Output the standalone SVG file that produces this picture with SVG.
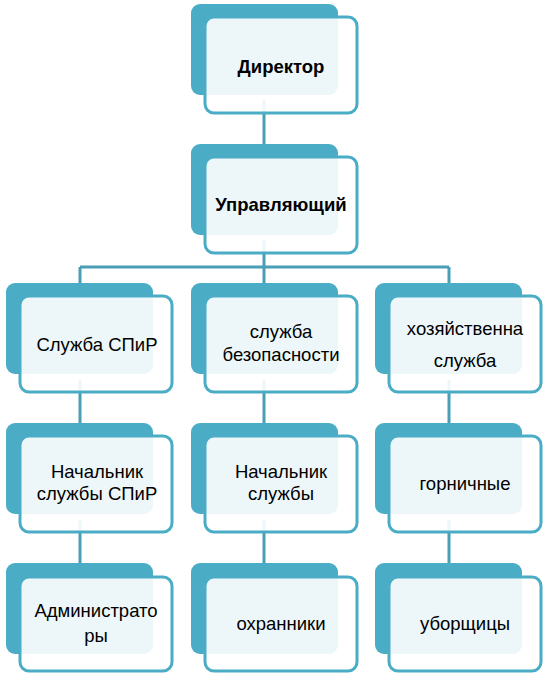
<svg xmlns="http://www.w3.org/2000/svg" width="546" height="674" viewBox="0 0 546 674">
<style>
.bk{fill:#4BACC6}
.fr{fill:#ffffff;fill-opacity:0.9;stroke:#4BACC6;stroke-width:3}
.ln{stroke:#4A9EB6;stroke-width:3;fill:none}
text{font-family:"Liberation Sans",Arial,sans-serif;font-size:18.5px;fill:#000;text-anchor:middle}
.b{font-weight:bold;font-size:18.5px}
</style>
<rect width="546" height="674" fill="#fff"/>
<g id="connectors">
<path class="ln" d="M264 100V144M264 240V267M80 267H449M80 267V283M264 267V283M449 267V283"/>
<path class="ln" d="M80 380V423M264 380V423M449 380V423M80 520V563M264 520V563M449 520V563"/>
</g>
<g id="director"><rect class="bk" x="191" y="4" width="147" height="91" rx="9"/><rect class="fr" x="205" y="17" width="152" height="96" rx="9"/><text class="b" x="281" y="73">Директор</text></g>
<g id="manager"><rect class="bk" x="191" y="144" width="147" height="91" rx="9"/><rect class="fr" x="205" y="157" width="152" height="96" rx="9"/><text class="b" x="281" y="211">Управляющий</text></g>
<g id="spir"><rect class="bk" x="6" y="283" width="147" height="91" rx="9"/><rect class="fr" x="20" y="296" width="152" height="96" rx="9"/><text x="97" y="351">Служба СПиР</text></g>
<g id="security"><rect class="bk" x="191" y="283" width="147" height="91" rx="9"/><rect class="fr" x="205" y="296" width="152" height="96" rx="9"/><text x="281" y="338">служба</text><text x="281" y="361">безопасности</text></g>
<g id="household"><rect class="bk" x="375" y="283" width="147" height="91" rx="9"/><rect class="fr" x="389" y="296" width="152" height="96" rx="9"/><text x="465" y="335">хозяйственна</text><text x="465" y="367">служба</text></g>
<g id="head-spir"><rect class="bk" x="6" y="423" width="147" height="91" rx="9"/><rect class="fr" x="20" y="436" width="152" height="96" rx="9"/><text x="97" y="478">Начальник</text><text x="97" y="500">службы СПиР</text></g>
<g id="head-security"><rect class="bk" x="191" y="423" width="147" height="91" rx="9"/><rect class="fr" x="205" y="436" width="152" height="96" rx="9"/><text x="281" y="478">Начальник</text><text x="281" y="500">службы</text></g>
<g id="maids"><rect class="bk" x="375" y="423" width="147" height="91" rx="9"/><rect class="fr" x="389" y="436" width="152" height="96" rx="9"/><text x="465" y="490">горничные</text></g>
<g id="admins"><rect class="bk" x="6" y="563" width="147" height="91" rx="9"/><rect class="fr" x="20" y="577" width="152" height="94" rx="9"/><text x="96" y="617">Администрато</text><text x="96" y="642">ры</text></g>
<g id="guards"><rect class="bk" x="191" y="563" width="147" height="91" rx="9"/><rect class="fr" x="205" y="577" width="152" height="94" rx="9"/><text x="281" y="630">охранники</text></g>
<g id="cleaners"><rect class="bk" x="375" y="563" width="147" height="91" rx="9"/><rect class="fr" x="389" y="577" width="152" height="94" rx="9"/><text x="465" y="630">уборщицы</text></g>
</svg>
